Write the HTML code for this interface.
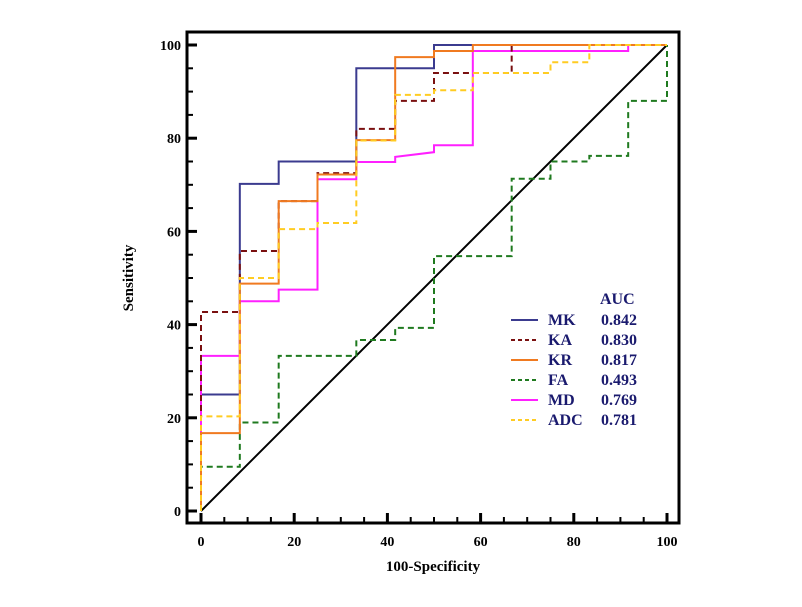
<!DOCTYPE html>
<html><head><meta charset="utf-8"><style>
body{margin:0;background:#fff}
svg text{font-family:"Liberation Serif",serif;font-weight:bold}
</style></head><body>
<svg id="c" width="802" height="602" xmlns="http://www.w3.org/2000/svg"></svg>
<script>
const xTicks=[0,20,40,60,80,100];
const yTicks=[0,20,40,60,80,100];
const seriesNames=["MK","KA","KR","FA","MD","ADC"];
const aucValues=["0.842","0.830","0.817","0.493","0.769","0.781"];
const mkX=[0,0,8.33,8.33,16.67,16.67,33.33,33.33,50,50,100];
const mkY=[0,25,25,70.2,70.2,75,75,95,95,100,100];
const kaX=[0,0,8.33,8.33,16.67,16.67,25,25,33.33,33.33,41.67,41.67,50,50,66.67,66.67,100];
const kaY=[0,42.7,42.7,55.8,55.8,66.5,66.5,72.5,72.5,82,82,88,88,94,94,100,100];
const krX=[0,0,8.33,8.33,16.67,16.67,25,25,33.33,33.33,41.67,41.67,50,50,58.33,58.33,100];
const krY=[0,16.7,16.7,48.8,48.8,66.5,66.5,72.2,72.2,79.6,79.6,97.4,97.4,98.7,98.7,100,100];
const faX=[0,0,8.33,8.33,16.67,16.67,33.33,33.33,41.67,41.67,50,50,66.67,66.67,75,75,83.33,83.33,91.67,91.67,100,100];
const faY=[0,9.5,9.5,19,19,33.3,33.3,36.7,36.7,39.3,39.3,54.7,54.7,71.3,71.3,75,75,76.2,76.2,88,88,100];
const mdX=[0,0,8.33,8.33,16.67,16.67,25,25,33.33,33.33,41.67,41.67,50,50,58.33,58.33,91.67,91.67,100];
const mdY=[0,33.3,33.3,45,45,47.5,47.5,71.2,71.2,74.9,74.9,76,77,78.5,78.5,98.7,98.7,100,100];
const adcX=[0,0,8.33,8.33,16.67,16.67,25,25,33.33,33.33,41.67,41.67,50,50,58.33,58.33,75,75,83.33,83.33,100];
const adcY=[0,20.3,20.3,50,50,60.5,60.5,61.8,61.8,79.5,79.5,89.3,89.3,90.3,90.3,94,94,96.3,96.3,100,100];

const NS="http://www.w3.org/2000/svg";
const svg=document.getElementById('c');
const sx=v=>201+v*4.66;
const sy=v=>511-v*4.66;
function mk(tag,attrs,parent){const e=document.createElementNS(NS,tag);for(const k in attrs)e.setAttribute(k,attrs[k]);(parent||svg).appendChild(e);return e;}

const frame=mk('rect',{x:187,y:32,width:492,height:491,fill:'none',stroke:'#000','stroke-width':3});



for(let v=0;v<=100;v+=5){
  const major=v%20===0;const L=major?9:5;
  const t1=mk('line',{x1:188,x2:188+L,y1:sy(v),y2:sy(v),stroke:'#000','stroke-width':major?3:2});
  
  
  const t2=mk('line',{x1:sx(v),x2:sx(v),y1:522,y2:522-L,stroke:'#000','stroke-width':major?3:2});
  
  
}
yTicks.forEach(v=>{const t=mk('text',{x:181,y:sy(v)+5,'text-anchor':'end','font-size':14});t.textContent=v;
  
  });
xTicks.forEach(v=>{const t=mk('text',{x:sx(v),y:546,'text-anchor':'middle','font-size':14});t.textContent=v;
  
  });
const xt=mk('text',{x:433,y:571,'text-anchor':'middle','font-size':15});xt.textContent='100-Specificity';


const yt=mk('text',{x:0,y:0,'text-anchor':'middle','font-size':15,transform:'translate(133,278) rotate(-90)'});yt.textContent='Sensitivity';



const diag=mk('line',{x1:sx(0),y1:sy(0),x2:sx(100),y2:sy(100),stroke:'#000','stroke-width':2});



const xs=[mkX,kaX,krX,faX,mdX,adcX], ys=[mkY,kaY,krY,faY,mdY,adcY];
const colors=['#3b3b8f','#7a1010','#f07a20','#1f7a1f','#ff20ff','#ffcc22'];
const dashes=['none','6,4','none','6,4','none','6,4'];
const order=[0,3,4,1,2,5];
order.forEach(i=>{
  const pts=xs[i].map((x,j)=>sx(x)+','+sy(ys[i][j])).join(' ');
  const p=mk('polyline',{points:pts,fill:'none',stroke:colors[i],'stroke-width':2,'stroke-dasharray':dashes[i]});
  
  
});

const hdr=mk('text',{x:600,y:304,'font-size':16,fill:'#1a1a6e'});hdr.textContent='AUC';


seriesNames.forEach((n,i)=>{
  const y=320+i*20;
  const g=mk('g',{});
  
  
  mk('line',{x1:511,x2:538,y1:y,y2:y,stroke:colors[i],'stroke-width':2,'stroke-dasharray':dashes[i]==='none'?'none':'4,3'},g);
  const a=mk('text',{x:548,y:y+5,'font-size':16,fill:'#1a1a6e'},g);a.textContent=n;
  const b=mk('text',{x:637,y:y+5,'font-size':16,fill:'#1a1a6e','text-anchor':'end'},g);b.textContent=aucValues[i];
});
</script>
</body></html>
